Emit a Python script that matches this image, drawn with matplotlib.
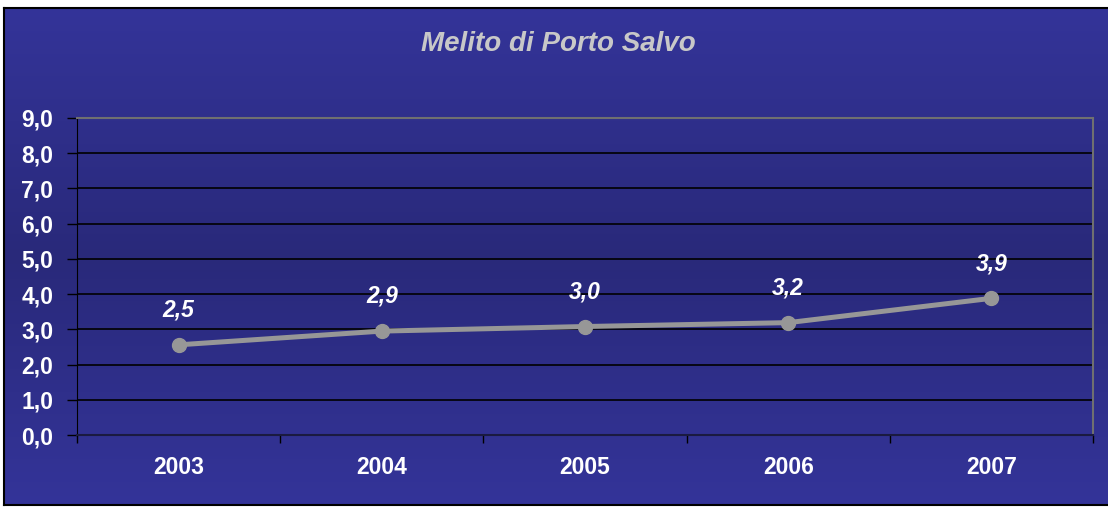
import numpy as np
import matplotlib.pyplot as plt
from matplotlib.colors import LinearSegmentedColormap

# dati
anni = ['2003', '2004', '2005', '2006', '2007']
valori = [2.56, 2.95, 3.08, 3.19, 3.88]
etichette = ['2,5', '2,9', '3,0', '3,2', '3,9']
y_ticks = [0, 1, 2, 3, 4, 5, 6, 7, 8, 9]

plt.rcParams['font.family'] = ['Liberation Sans', 'DejaVu Sans']

W, H = 1108, 509
fig = plt.figure(figsize=(W / 100, H / 100), dpi=100, facecolor='white')

# sfondo a gradiente
bg = fig.add_axes([4 / W, (H - 505) / H, 1 - 4 / W, (505 - 8) / H])
cmap = LinearSegmentedColormap.from_list(
    'sfondo', [(0, '#343499'), (0.5, '#29297a'), (1, '#343499')])
grad = np.linspace(0, 1, 256).reshape(-1, 1)
bg.imshow(grad, aspect='auto', cmap=cmap, extent=[0, 1, 0, 1], origin='upper')
bg.set_xlim(0, 1)
bg.set_ylim(0, 1)
bg.set_xticks([])
bg.set_yticks([])
for s in ['top', 'left', 'bottom']:
    bg.spines[s].set_color('black')
    bg.spines[s].set_linewidth(1.5)
bg.spines['right'].set_visible(False)

# area del grafico
ax = fig.add_axes([77 / W, (H - 435) / H, (1093 - 77) / W, (435 - 118) / H])
ax.patch.set_alpha(0)
x = np.arange(len(anni))
ax.plot(x, valori, color='#979797', linewidth=3.6, marker='o',
        markersize=10, markeredgecolor='#979797', zorder=3)
for xi, v, lab in zip(x, valori, etichette):
    ax.annotate(lab, (xi, v), xytext=(0, 25), textcoords='offset points',
                ha='center', va='center', color='white', fontsize=16.5,
                fontweight='bold', fontstyle='italic')

ax.set_xlim(-0.5, len(anni) - 0.5)
ax.set_ylim(0, 9)
ax.set_yticks(y_ticks)
ax.set_yticklabels([f'{t:.1f}'.replace('.', ',') for t in y_ticks])
ax.set_xticks(x)
ax.set_xticklabels(anni)
ax.set_xticks(np.arange(-0.5, len(anni), 1), minor=True)
ax.tick_params(axis='x', which='major', length=0, pad=15,
               labelsize=16.5, labelcolor='white')
ax.tick_params(axis='x', which='minor', length=6, color='black', width=1)
ax.tick_params(axis='y', length=7, color='black', width=1, pad=10,
               labelsize=16.5, labelcolor='white')
for lab in ax.get_xticklabels() + ax.get_yticklabels():
    lab.set_fontweight('bold')

ax.grid(axis='y', color='black', linewidth=1.2)
ax.set_axisbelow(True)
ax.spines['left'].set_color('black')
ax.spines['bottom'].set_color('#1a1a40')
ax.spines['bottom'].set_linewidth(1.5)
ax.spines['top'].set_color('#707070')
ax.spines['right'].set_color('#707070')
ax.spines['top'].set_linewidth(1.5)
ax.spines['right'].set_linewidth(1.5)

fig.text(558 / W, 1 - 44 / H, 'Melito di Porto Salvo', ha='center', va='center',
         color='#c8c8c8', fontsize=20, fontweight='bold', fontstyle='italic')

fig.savefig('out.png', dpi=100, facecolor='white')
